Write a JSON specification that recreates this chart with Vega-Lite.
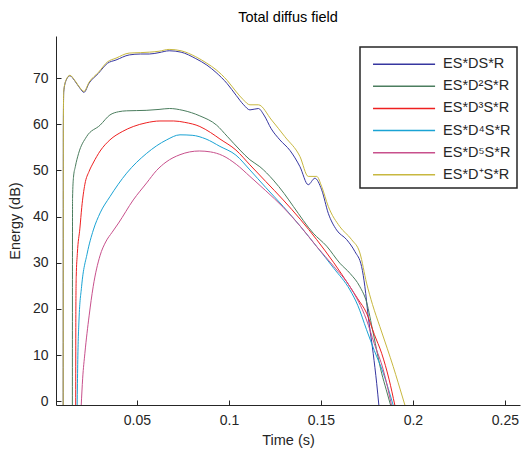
{
  "$schema": "https://vega.github.io/schema/vega-lite/v6.json",
  "autosize": {"type": "none"},
  "width": 464,
  "height": 369,
  "padding": {"left": 56, "top": 36, "right": 3, "bottom": 46},
  "title": {"text": "Total diffus field", "fontSize": 14.5, "fontWeight": "normal", "font": "Liberation Sans", "color": "#000", "offset": 11, "anchor": "middle"},
  "config": {
    "view": {"stroke": null},
    "font": "Liberation Sans",
    "axis": {"grid": false, "domainColor": "#262626", "tickColor": "#262626", "labelColor": "#262626", "titleColor": "#262626", "labelFontSize": 14, "titleFontSize": 14.5, "titleFontWeight": "normal", "tickSize": -5, "labelPadding": 13},
    "legend": {"strokeColor": "#262626", "fillColor": "#ffffff", "strokeWidth": 1.5}
  },
  "data": {"values": [
    {"t":0.0099,"e":-0.9,"s":"ES*DS*R"},{"t":0.0100,"e":60,"s":"ES*DS*R"},{"t":0.0102,"e":67.0,"s":"ES*DS*R"},{"t":0.0115,"e":69.5,"s":"ES*DS*R"},{"t":0.0136,"e":70.5,"s":"ES*DS*R"},{"t":0.0160,"e":69.5,"s":"ES*DS*R"},{"t":0.0190,"e":67.8,"s":"ES*DS*R"},{"t":0.0212,"e":66.9,"s":"ES*DS*R"},{"t":0.0240,"e":68.9,"s":"ES*DS*R"},{"t":0.0290,"e":71.0,"s":"ES*DS*R"},{"t":0.0340,"e":73.2,"s":"ES*DS*R"},{"t":0.0386,"e":73.9,"s":"ES*DS*R"},{"t":0.0458,"e":75.0,"s":"ES*DS*R"},{"t":0.0520,"e":75.2,"s":"ES*DS*R"},{"t":0.0567,"e":75.2,"s":"ES*DS*R"},{"t":0.0620,"e":75.5,"s":"ES*DS*R"},{"t":0.0675,"e":75.9,"s":"ES*DS*R"},{"t":0.0740,"e":75.6,"s":"ES*DS*R"},{"t":0.0820,"e":74.2,"s":"ES*DS*R"},{"t":0.0880,"e":72.8,"s":"ES*DS*R"},{"t":0.0930,"e":71.2,"s":"ES*DS*R"},{"t":0.0990,"e":68.8,"s":"ES*DS*R"},{"t":0.1040,"e":66.2,"s":"ES*DS*R"},{"t":0.1080,"e":64.2,"s":"ES*DS*R"},{"t":0.1114,"e":63.1,"s":"ES*DS*R"},{"t":0.1160,"e":63.4,"s":"ES*DS*R"},{"t":0.1190,"e":62.0,"s":"ES*DS*R"},{"t":0.1230,"e":59.0,"s":"ES*DS*R"},{"t":0.1277,"e":56.6,"s":"ES*DS*R"},{"t":0.1332,"e":54.3,"s":"ES*DS*R"},{"t":0.1386,"e":50.8,"s":"ES*DS*R"},{"t":0.1431,"e":46.9,"s":"ES*DS*R"},{"t":0.1467,"e":48.3,"s":"ES*DS*R"},{"t":0.1504,"e":45.8,"s":"ES*DS*R"},{"t":0.1540,"e":40.7,"s":"ES*DS*R"},{"t":0.1585,"e":37.1,"s":"ES*DS*R"},{"t":0.1640,"e":35.0,"s":"ES*DS*R"},{"t":0.1685,"e":32.4,"s":"ES*DS*R"},{"t":0.1721,"e":29.2,"s":"ES*DS*R"},{"t":0.1739,"e":24.8,"s":"ES*DS*R"},{"t":0.1757,"e":18.4,"s":"ES*DS*R"},{"t":0.1784,"e":10.4,"s":"ES*DS*R"},{"t":0.1803,"e":3.9,"s":"ES*DS*R"},{"t":0.1815,"e":-0.9,"s":"ES*DS*R"},

    {"t":0.0149,"e":-0.9,"s":"ES*D²S*R"},{"t":0.0150,"e":44,"s":"ES*D²S*R"},{"t":0.0155,"e":48.5,"s":"ES*D²S*R"},{"t":0.0165,"e":50.8,"s":"ES*D²S*R"},{"t":0.0183,"e":53.7,"s":"ES*D²S*R"},{"t":0.0226,"e":57.3,"s":"ES*D²S*R"},{"t":0.0300,"e":59.8,"s":"ES*D²S*R"},{"t":0.0353,"e":62.0,"s":"ES*D²S*R"},{"t":0.0400,"e":62.7,"s":"ES*D²S*R"},{"t":0.0444,"e":62.9,"s":"ES*D²S*R"},{"t":0.0550,"e":63.0,"s":"ES*D²S*R"},{"t":0.0620,"e":63.2,"s":"ES*D²S*R"},{"t":0.0676,"e":63.4,"s":"ES*D²S*R"},{"t":0.0750,"e":63.0,"s":"ES*D²S*R"},{"t":0.0842,"e":61.8,"s":"ES*D²S*R"},{"t":0.0933,"e":59.8,"s":"ES*D²S*R"},{"t":0.0990,"e":57.4,"s":"ES*D²S*R"},{"t":0.1060,"e":54.4,"s":"ES*D²S*R"},{"t":0.1114,"e":52.3,"s":"ES*D²S*R"},{"t":0.1168,"e":50.8,"s":"ES*D²S*R"},{"t":0.1241,"e":47.9,"s":"ES*D²S*R"},{"t":0.1300,"e":45.0,"s":"ES*D²S*R"},{"t":0.1350,"e":42.2,"s":"ES*D²S*R"},{"t":0.1458,"e":36.4,"s":"ES*D²S*R"},{"t":0.1531,"e":33.6,"s":"ES*D²S*R"},{"t":0.1603,"e":29.9,"s":"ES*D²S*R"},{"t":0.1658,"e":27.7,"s":"ES*D²S*R"},{"t":0.1712,"e":24.8,"s":"ES*D²S*R"},{"t":0.1748,"e":21.5,"s":"ES*D²S*R"},{"t":0.1784,"e":14.8,"s":"ES*D²S*R"},{"t":0.1830,"e":6.1,"s":"ES*D²S*R"},{"t":0.1855,"e":2.5,"s":"ES*D²S*R"},{"t":0.1879,"e":-0.9,"s":"ES*D²S*R"},

    {"t":0.0167,"e":-0.9,"s":"ES*D³S*R"},{"t":0.0168,"e":20,"s":"ES*D³S*R"},{"t":0.0170,"e":27,"s":"ES*D³S*R"},{"t":0.0176,"e":32,"s":"ES*D³S*R"},{"t":0.0190,"e":37.5,"s":"ES*D³S*R"},{"t":0.0200,"e":42,"s":"ES*D³S*R"},{"t":0.0217,"e":47.0,"s":"ES*D³S*R"},{"t":0.0240,"e":49.8,"s":"ES*D³S*R"},{"t":0.0262,"e":51.6,"s":"ES*D³S*R"},{"t":0.0300,"e":54.2,"s":"ES*D³S*R"},{"t":0.0353,"e":56.6,"s":"ES*D³S*R"},{"t":0.0420,"e":58.4,"s":"ES*D³S*R"},{"t":0.0480,"e":59.5,"s":"ES*D³S*R"},{"t":0.0550,"e":60.3,"s":"ES*D³S*R"},{"t":0.0625,"e":60.7,"s":"ES*D³S*R"},{"t":0.0700,"e":60.7,"s":"ES*D³S*R"},{"t":0.0760,"e":60.4,"s":"ES*D³S*R"},{"t":0.0842,"e":59.5,"s":"ES*D³S*R"},{"t":0.0900,"e":58.2,"s":"ES*D³S*R"},{"t":0.0951,"e":56.8,"s":"ES*D³S*R"},{"t":0.1038,"e":54.4,"s":"ES*D³S*R"},{"t":0.1114,"e":51.2,"s":"ES*D³S*R"},{"t":0.1200,"e":47.6,"s":"ES*D³S*R"},{"t":0.1295,"e":43.6,"s":"ES*D³S*R"},{"t":0.1390,"e":39.3,"s":"ES*D³S*R"},{"t":0.1477,"e":35.0,"s":"ES*D³S*R"},{"t":0.1570,"e":30.0,"s":"ES*D³S*R"},{"t":0.1658,"e":24.8,"s":"ES*D³S*R"},{"t":0.1700,"e":22.2,"s":"ES*D³S*R"},{"t":0.1748,"e":19.1,"s":"ES*D³S*R"},{"t":0.1790,"e":14.5,"s":"ES*D³S*R"},{"t":0.1830,"e":10.4,"s":"ES*D³S*R"},{"t":0.1870,"e":4.8,"s":"ES*D³S*R"},{"t":0.1902,"e":-0.9,"s":"ES*D³S*R"},

    {"t":0.0175,"e":-0.9,"s":"ES*D⁴S*R"},{"t":0.0178,"e":8,"s":"ES*D⁴S*R"},{"t":0.0185,"e":17.6,"s":"ES*D⁴S*R"},{"t":0.0199,"e":24.8,"s":"ES*D⁴S*R"},{"t":0.0230,"e":32.1,"s":"ES*D⁴S*R"},{"t":0.0263,"e":37.1,"s":"ES*D⁴S*R"},{"t":0.0300,"e":40.8,"s":"ES*D⁴S*R"},{"t":0.0353,"e":44.3,"s":"ES*D⁴S*R"},{"t":0.0444,"e":49.4,"s":"ES*D⁴S*R"},{"t":0.0553,"e":53.7,"s":"ES*D⁴S*R"},{"t":0.0661,"e":56.6,"s":"ES*D⁴S*R"},{"t":0.0734,"e":57.7,"s":"ES*D⁴S*R"},{"t":0.0800,"e":57.6,"s":"ES*D⁴S*R"},{"t":0.0875,"e":56.8,"s":"ES*D⁴S*R"},{"t":0.0951,"e":55.2,"s":"ES*D⁴S*R"},{"t":0.1038,"e":53.3,"s":"ES*D⁴S*R"},{"t":0.1114,"e":50.1,"s":"ES*D⁴S*R"},{"t":0.1200,"e":46.3,"s":"ES*D⁴S*R"},{"t":0.1295,"e":42.2,"s":"ES*D⁴S*R"},{"t":0.1390,"e":37.8,"s":"ES*D⁴S*R"},{"t":0.1477,"e":33.5,"s":"ES*D⁴S*R"},{"t":0.1570,"e":28.8,"s":"ES*D⁴S*R"},{"t":0.1658,"e":24.1,"s":"ES*D⁴S*R"},{"t":0.1700,"e":20.8,"s":"ES*D⁴S*R"},{"t":0.1748,"e":15.5,"s":"ES*D⁴S*R"},{"t":0.1790,"e":11.0,"s":"ES*D⁴S*R"},{"t":0.1839,"e":6.1,"s":"ES*D⁴S*R"},{"t":0.1893,"e":-0.9,"s":"ES*D⁴S*R"},

    {"t":0.0197,"e":-0.9,"s":"ES*D⁵S*R"},{"t":0.0205,"e":5,"s":"ES*D⁵S*R"},{"t":0.0217,"e":10.4,"s":"ES*D⁵S*R"},{"t":0.0240,"e":18.5,"s":"ES*D⁵S*R"},{"t":0.0262,"e":24.8,"s":"ES*D⁵S*R"},{"t":0.0299,"e":31.5,"s":"ES*D⁵S*R"},{"t":0.0330,"e":34.5,"s":"ES*D⁵S*R"},{"t":0.0365,"e":36.6,"s":"ES*D⁵S*R"},{"t":0.0400,"e":38.6,"s":"ES*D⁵S*R"},{"t":0.0480,"e":43.6,"s":"ES*D⁵S*R"},{"t":0.0553,"e":47.3,"s":"ES*D⁵S*R"},{"t":0.0607,"e":50.0,"s":"ES*D⁵S*R"},{"t":0.0658,"e":51.8,"s":"ES*D⁵S*R"},{"t":0.0734,"e":53.4,"s":"ES*D⁵S*R"},{"t":0.0839,"e":54.2,"s":"ES*D⁵S*R"},{"t":0.0900,"e":54.0,"s":"ES*D⁵S*R"},{"t":0.0966,"e":53.2,"s":"ES*D⁵S*R"},{"t":0.1040,"e":51.3,"s":"ES*D⁵S*R"},{"t":0.1114,"e":48.7,"s":"ES*D⁵S*R"},{"t":0.1200,"e":45.6,"s":"ES*D⁵S*R"},{"t":0.1295,"e":42.0,"s":"ES*D⁵S*R"},{"t":0.1390,"e":37.8,"s":"ES*D⁵S*R"},{"t":0.1477,"e":33.5,"s":"ES*D⁵S*R"},{"t":0.1570,"e":29.2,"s":"ES*D⁵S*R"},{"t":0.1658,"e":24.8,"s":"ES*D⁵S*R"},{"t":0.1748,"e":17.6,"s":"ES*D⁵S*R"},{"t":0.1790,"e":12.5,"s":"ES*D⁵S*R"},{"t":0.1839,"e":6.8,"s":"ES*D⁵S*R"},{"t":0.1884,"e":-0.9,"s":"ES*D⁵S*R"},

    {"t":0.0099,"e":-0.9,"s":"ES*D⁺S*R"},{"t":0.0100,"e":60,"s":"ES*D⁺S*R"},{"t":0.0102,"e":67.2,"s":"ES*D⁺S*R"},{"t":0.0115,"e":69.6,"s":"ES*D⁺S*R"},{"t":0.0136,"e":70.6,"s":"ES*D⁺S*R"},{"t":0.0160,"e":69.6,"s":"ES*D⁺S*R"},{"t":0.0190,"e":67.9,"s":"ES*D⁺S*R"},{"t":0.0212,"e":67.1,"s":"ES*D⁺S*R"},{"t":0.0240,"e":69.1,"s":"ES*D⁺S*R"},{"t":0.0290,"e":71.2,"s":"ES*D⁺S*R"},{"t":0.0340,"e":73.5,"s":"ES*D⁺S*R"},{"t":0.0386,"e":74.3,"s":"ES*D⁺S*R"},{"t":0.0458,"e":75.4,"s":"ES*D⁺S*R"},{"t":0.0520,"e":75.5,"s":"ES*D⁺S*R"},{"t":0.0567,"e":75.6,"s":"ES*D⁺S*R"},{"t":0.0620,"e":75.8,"s":"ES*D⁺S*R"},{"t":0.0675,"e":76.2,"s":"ES*D⁺S*R"},{"t":0.0740,"e":75.9,"s":"ES*D⁺S*R"},{"t":0.0820,"e":74.6,"s":"ES*D⁺S*R"},{"t":0.0880,"e":73.2,"s":"ES*D⁺S*R"},{"t":0.0930,"e":71.8,"s":"ES*D⁺S*R"},{"t":0.0990,"e":69.5,"s":"ES*D⁺S*R"},{"t":0.1040,"e":67.0,"s":"ES*D⁺S*R"},{"t":0.1078,"e":65.3,"s":"ES*D⁺S*R"},{"t":0.1114,"e":64.2,"s":"ES*D⁺S*R"},{"t":0.1160,"e":64.2,"s":"ES*D⁺S*R"},{"t":0.1232,"e":60.9,"s":"ES*D⁺S*R"},{"t":0.1304,"e":57.3,"s":"ES*D⁺S*R"},{"t":0.1386,"e":53.0,"s":"ES*D⁺S*R"},{"t":0.1431,"e":48.7,"s":"ES*D⁺S*R"},{"t":0.1477,"e":48.7,"s":"ES*D⁺S*R"},{"t":0.1504,"e":46.5,"s":"ES*D⁺S*R"},{"t":0.1540,"e":42.2,"s":"ES*D⁺S*R"},{"t":0.1603,"e":37.8,"s":"ES*D⁺S*R"},{"t":0.1667,"e":35.0,"s":"ES*D⁺S*R"},{"t":0.1712,"e":32.1,"s":"ES*D⁺S*R"},{"t":0.1748,"e":25.6,"s":"ES*D⁺S*R"},{"t":0.1780,"e":21.0,"s":"ES*D⁺S*R"},{"t":0.1820,"e":16.2,"s":"ES*D⁺S*R"},{"t":0.1860,"e":11.5,"s":"ES*D⁺S*R"},{"t":0.1893,"e":7.5,"s":"ES*D⁺S*R"},{"t":0.1920,"e":4.0,"s":"ES*D⁺S*R"},{"t":0.1957,"e":-0.9,"s":"ES*D⁺S*R"}
  ]},
  "mark": {"type": "line", "strokeWidth": 1, "clip": true, "interpolate": "monotone"},
  "encoding": {
    "x": {"field": "t", "type": "quantitative", "title": "Time (s)", "scale": {"domain": [0.006, 0.2582], "nice": false, "zero": false}, "axis": {"values": [0.05, 0.1, 0.15, 0.2, 0.25], "format": "~g", "titlePadding": 6}},
    "y": {"field": "e", "type": "quantitative", "title": "Energy (dB)", "scale": {"domain": [-0.8, 79.1], "nice": false, "zero": false}, "axis": {"values": [0, 10, 20, 30, 40, 50, 60, 70], "titlePadding": 10}},
    "color": {"field": "s", "type": "nominal",
      "scale": {"domain": ["ES*DS*R", "ES*D²S*R", "ES*D³S*R", "ES*D⁴S*R", "ES*D⁵S*R", "ES*D⁺S*R"], "range": ["#3636a0", "#4b7d5e", "#ee2020", "#1aa3d4", "#c8508c", "#c8b840"]},
      "legend": {"title": " ", "titleFontSize": 1, "titlePadding": 3, "orient": "none", "legendX": 304, "legendY": 11, "symbolType": "M-5,0H5", "symbolSize": 154, "symbolStrokeWidth": 1.5, "symbolOffset": 30.8, "labelFontSize": 14.5, "labelColor": "#262626", "labelOffset": 31.8, "strokeColor": "#262626", "fillColor": "#ffffff", "padding": 6, "rowPadding": 7.1, "labelLimit": 200}
    },
    "order": {"field": "t", "type": "quantitative"}
  }
}
